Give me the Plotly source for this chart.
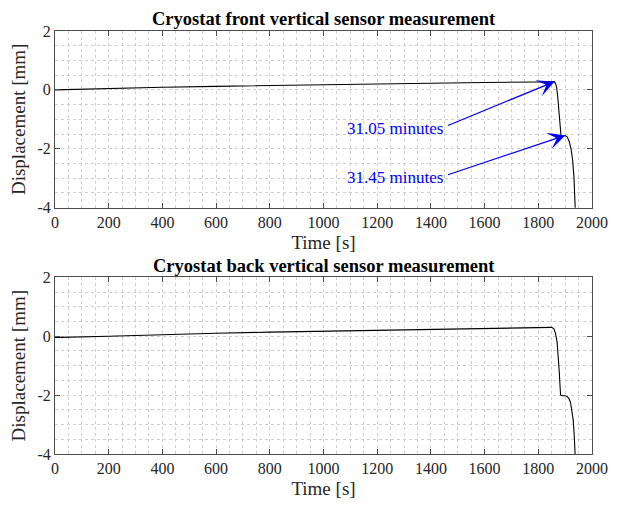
import plotly.graph_objects as go

# Front vertical sensor: time [s] and displacement [mm]
front_time = [0, 200, 400, 600, 800, 1000, 1200, 1400, 1415, 1420, 1440, 1445, 1600, 1800,
              1850, 1860, 1864, 1868, 1872, 1876, 1880, 1883, 1885, 1890, 1895, 1900,
              1908, 1915, 1922, 1928, 1933, 1937, 1940]
front_disp = [0.0, 0.05, 0.09, 0.12, 0.15, 0.17, 0.20, 0.22, 0.22, 0.24, 0.24, 0.23, 0.25, 0.27,
              0.28, 0.28, 0.22, 0.10, -0.20, -0.60, -1.10, -1.50, -1.60, -1.58, -1.56, -1.55,
              -1.60, -1.75, -2.00, -2.40, -3.00, -3.80, -4.60]

# Back vertical sensor
back_time = [0, 20, 200, 400, 600, 800, 1000, 1200, 1400, 1420, 1440, 1445, 1600, 1800,
             1840, 1850, 1858, 1864, 1870, 1874, 1878, 1881, 1883, 1890, 1900, 1908,
             1914, 1920, 1925, 1930, 1934, 1937, 1940]
back_disp = [-0.04, -0.04, 0.0, 0.06, 0.10, 0.14, 0.17, 0.20, 0.23, 0.25, 0.25, 0.24, 0.26, 0.29,
             0.31, 0.30, 0.25, 0.10, -0.20, -0.60, -1.20, -1.70, -2.00, -2.02, -2.02, -2.05,
             -2.12, -2.25, -2.50, -2.85, -3.40, -4.00, -4.60]

# Event markers on the front sensor trace
event_labels = ["31.05 minutes", "31.45 minutes"]
event_tip_t = [1860, 1900]
event_tip_d = [0.28, -1.55]
event_tail_t = [1458, 1458]
event_tail_d = [-1.23, -2.90]

titles = ["Cryostat front vertical sensor measurement", "Cryostat back vertical sensor measurement"]

FONT = "Liberation Serif"
GRID = "#cfcfcf"
AXIS = "#4d4d4d"
TEXT = "#262626"

fig = go.Figure()
fig.add_trace(go.Scatter(x=front_time, y=front_disp, mode="lines",
                         line=dict(color="black", width=1.1), xaxis="x", yaxis="y",
                         showlegend=False))
fig.add_trace(go.Scatter(x=back_time, y=back_disp, mode="lines",
                         line=dict(color="black", width=1.1), xaxis="x2", yaxis="y2",
                         showlegend=False))

H = 508
top_px, bottom_px = 31, 46
plot_h = H - top_px - bottom_px
dom_top = [(462 - 211) / plot_h, 1.0]
dom_bot = [0.0, (462 - 282) / plot_h]


def xaxis(anchor):
    return dict(range=[0, 2000], tickmode="array", tickvals=list(range(0, 2001, 200)),
                showgrid=True, gridcolor=GRID, griddash="dot", gridwidth=1,
                minor=dict(dtick=50, showgrid=True, gridcolor=GRID, griddash="dot", gridwidth=1),
                ticks="inside", ticklen=5, tickcolor=AXIS, showline=True, linecolor=AXIS,
                linewidth=1, mirror="allticks", zeroline=False, anchor=anchor,
                tickfont=dict(family=FONT, size=16, color=TEXT),
                title=dict(text="Time [s]", font=dict(family=FONT, size=19, color=TEXT),
                           standoff=5))


def yaxis(anchor, domain):
    return dict(range=[-4, 2], tickvals=[-4, -2, 0, 2], ticktext=["-4", "-2", "0", "2"],
                showgrid=True, gridcolor=GRID, griddash="dot", gridwidth=1,
                minor=dict(dtick=0.5, showgrid=True, gridcolor=GRID, griddash="dot", gridwidth=1),
                ticks="inside", ticklen=5, tickcolor=AXIS, showline=True, linecolor=AXIS,
                linewidth=1, mirror="allticks", zeroline=False, anchor=anchor, domain=domain,
                tickfont=dict(family=FONT, size=16, color=TEXT),
                title=dict(text="Displacement [mm]", font=dict(family=FONT, size=19, color=TEXT),
                           standoff=6))


annotations = []
for lab, tt, td, at, ad in zip(event_labels, event_tip_t, event_tip_d,
                               event_tail_t, event_tail_d):
    annotations.append(dict(x=tt, y=td, ax=at, ay=ad, xref="x", yref="y", axref="x", ayref="y",
                            showarrow=True, arrowhead=3, arrowsize=2.4, arrowwidth=1.2,
                            arrowcolor="#0000ff", text=""))
    annotations.append(dict(x=at - 4, y=ad - 0.08, xref="x", yref="y", text=lab, showarrow=False,
                            xanchor="right", yanchor="middle",
                            font=dict(family=FONT, size=17, color="#0000ff")))

# Subplot titles, centred over each plot area
for title, ypix in zip(titles, [19, 270]):
    annotations.append(dict(x=0.5, y=1 - (ypix - top_px) / plot_h, xref="paper", yref="paper",
                            text="<b>" + title + "</b>", showarrow=False,
                            xanchor="center", yanchor="middle",
                            font=dict(family=FONT, size=18.5, color="black")))

fig.update_layout(
    width=620, height=H,
    margin=dict(l=55, r=19, t=top_px, b=bottom_px),
    plot_bgcolor="white", paper_bgcolor="white",
    xaxis=xaxis("y"), yaxis=yaxis("x", dom_top),
    xaxis2=xaxis("y2"), yaxis2=yaxis("x2", dom_bot),
    annotations=annotations,
)

fig.write_html("out.html")
